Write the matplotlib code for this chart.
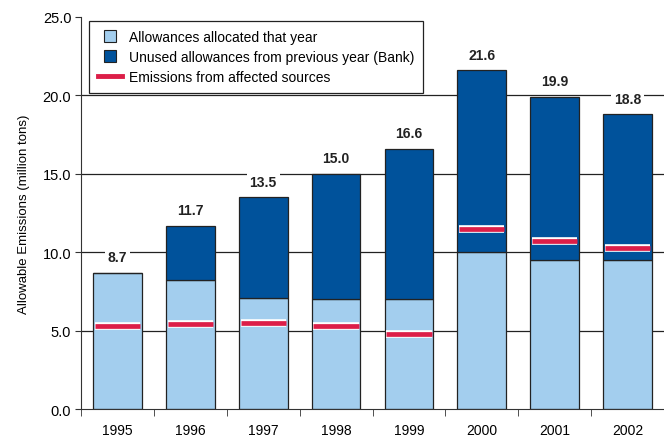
import matplotlib.pyplot as plt
import matplotlib.patheffects as pe
from matplotlib.lines import Line2D
import numpy as np

plt.rcParams['font.family'] = ['Liberation Sans', 'DejaVu Sans']

# ----------- data -----------
years = ['1995', '1996', '1997', '1998', '1999', '2000', '2001', '2002']
allocated = [8.7, 8.2, 7.1, 7.0, 7.0, 10.0, 9.5, 9.5]
totals = [8.7, 11.7, 13.5, 15.0, 16.6, 21.6, 19.9, 18.8]
emissions = [5.3, 5.4, 5.5, 5.3, 4.8, 11.5, 10.7, 10.3]
banked = [t - a for t, a in zip(totals, allocated)]

light = '#A3CEEE'
dark = '#00529B'
red = '#DC1E48'

fig = plt.figure(figsize=(6.64, 4.39), dpi=100)
ax = fig.add_axes([0.122, 0.066, 0.878, 0.893])

x = np.arange(len(years))
w = 0.67

# gridlines behind bars
for g in [5, 10, 15, 20]:
    ax.axhline(g, color='#222222', lw=0.9, zorder=0)

ax.bar(x, allocated, w, color=light, edgecolor='#222222', lw=0.9, zorder=2)
ax.bar(x, banked, w, bottom=allocated, color=dark, edgecolor='#222222', lw=0.9, zorder=2)

# emissions markers
ax.hlines(emissions, x - 0.31, x + 0.31, colors=red, lw=3.4, zorder=4,
          path_effects=[pe.Stroke(linewidth=5.5, foreground='white'), pe.Normal()])

# totals above bars
for xi, t in zip(x, totals):
    ax.text(xi, t + 1.0, '%.1f' % t, ha='center', va='center', fontsize=10,
            fontweight='bold', color='#222222', zorder=5,
            bbox=dict(facecolor='white', edgecolor='none', pad=2))

ax.set_xlim(-0.5, 7.5)
ax.set_ylim(0, 25)
ax.set_yticks([0, 5, 10, 15, 20, 25])
ax.set_yticklabels(['%.1f' % v for v in [0, 5, 10, 15, 20, 25]], fontsize=10.5)
ax.set_xticks(x)
ax.set_xticklabels(years, fontsize=10)
ax.tick_params(axis='x', which='major', length=0, pad=10)
ax.set_xticks(np.arange(-0.5, 8, 1), minor=True)
ax.tick_params(axis='x', which='minor', length=5, color='#333333')
ax.tick_params(axis='y', length=4, color='#333333', pad=3)
ax.spines['top'].set_visible(False)
ax.spines['right'].set_visible(False)
ax.spines['left'].set_color('#333333')
ax.spines['bottom'].set_color('#333333')
ax.set_ylabel('Allowable Emissions (million tons)', fontsize=9.5, labelpad=9)

handles = [Line2D([0], [0], ls='none', marker='s', markersize=8, markerfacecolor=light,
                  markeredgecolor='#222222', markeredgewidth=0.8),
           Line2D([0], [0], ls='none', marker='s', markersize=8, markerfacecolor=dark,
                  markeredgecolor='#222222', markeredgewidth=0.8),
           Line2D([0], [0], color=red, lw=3.5)]
labels = ['Allowances allocated that year',
          'Unused allowances from previous year (Bank)',
          'Emissions from affected sources']
leg = ax.legend(handles, labels, loc='upper left', bbox_to_anchor=(0.014, 0.99),
                fontsize=10, frameon=True, fancybox=False, edgecolor='#222222',
                framealpha=1, handlelength=1.7, borderpad=0.65,
                labelspacing=0.42, borderaxespad=0.0, handletextpad=0.5)
leg.get_frame().set_linewidth(0.9)
leg.set_zorder(6)

fig.savefig('out.png', dpi=100)
